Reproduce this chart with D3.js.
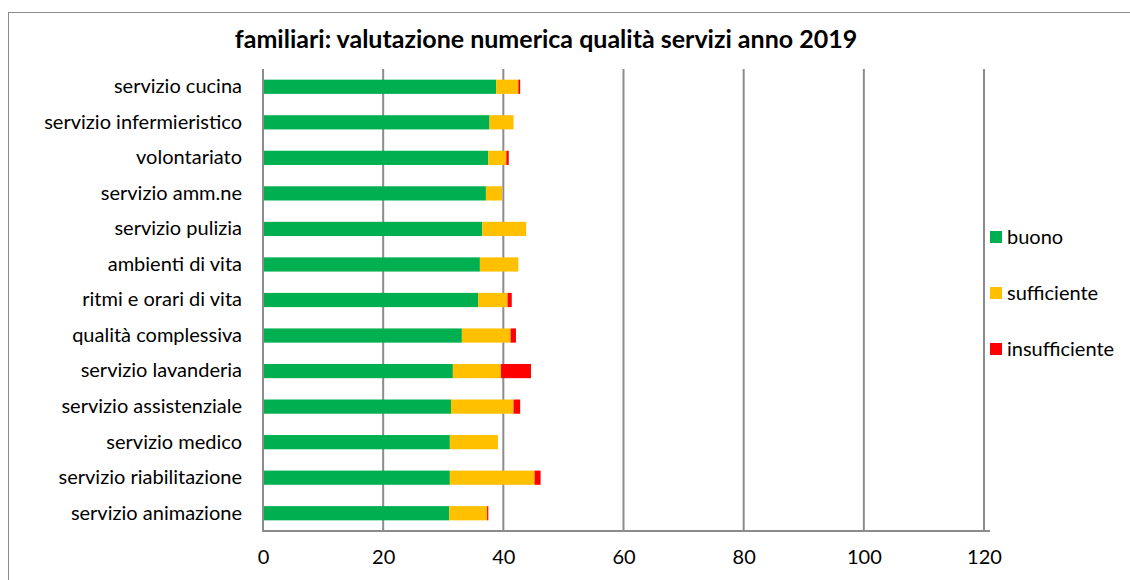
<!DOCTYPE html>
<html>
<head>
<meta charset="utf-8">
<script src="https://cdn.jsdelivr.net/npm/d3@7"></script>
<style>
  body { margin: 0; background: #fff; }
  svg text { font-family: "Lato", "Open Sans", sans-serif; fill: #000; }
</style>
</head>
<body>
<div id="chart"></div>
<script>
// Data
const categories = [
  "servizio cucina", "servizio infermieristico", "volontariato", "servizio amm.ne",
  "servizio pulizia", "ambienti di vita", "ritmi e orari di vita", "qualità complessiva",
  "servizio lavanderia", "servizio assistenziale", "servizio medico",
  "servizio riabilitazione", "servizio animazione"
];
const buono =         [38.8, 37.7, 37.5, 37.1, 36.5, 36.1, 35.8, 33.1, 31.6, 31.3, 31.1, 31.1, 31.0];
const sufficiente =   [3.7, 4.0, 3.0, 2.7, 7.3, 6.4, 4.9, 8.1, 8.0, 10.4, 8.0, 14.1, 6.3];
const insufficiente = [0.3, 0, 0.4, 0, 0, 0, 0.7, 0.9, 5.0, 1.1, 0, 1.0, 0.2];
const seriesNames = ["buono", "sufficiente", "insufficiente"];
const xTicks = [0, 20, 40, 60, 80, 100, 120];

const width = 1130, height = 580;
const margin = { top: 69, right: 146, bottom: 49, left: 263 };
const colors = { buono: "#00B050", sufficiente: "#FFC000", insufficiente: "#FF0000" };

const svg = d3.select("#chart").append("svg")
  .attr("width", width)
  .attr("height", height);

// outer chart frame
svg.append("rect")
  .attr("x", 8.5).attr("y", 12.5)
  .attr("width", width + 10).attr("height", height + 10)
  .attr("fill", "none").attr("stroke", "#8c8c8c").attr("stroke-width", 1);

const rows = categories.map((c, i) => ({
  name: c, buono: buono[i], sufficiente: sufficiente[i], insufficiente: insufficiente[i]
}));
const stacked = d3.stack().keys(seriesNames)(rows);

const x = d3.scaleLinear().domain([0, 120]).range([margin.left, 984]);
const y = d3.scaleBand().domain(categories)
  .range([margin.top, height - margin.bottom])
  .paddingInner(0.6).paddingOuter(0.3);

// vertical gridlines
svg.append("g")
  .selectAll("line")
  .data(xTicks.slice(1))
  .join("line")
  .attr("x1", d => x(d)).attr("x2", d => x(d))
  .attr("y1", margin.top).attr("y2", height - margin.bottom)
  .attr("stroke", "#8c8c8c").attr("stroke-width", 2);

// bars
svg.append("g")
  .selectAll("g")
  .data(stacked)
  .join("g")
  .attr("fill", d => colors[d.key])
  .selectAll("rect")
  .data(d => d)
  .join("rect")
  .attr("x", d => x(d[0]))
  .attr("y", d => y(d.data.name))
  .attr("width", d => x(d[1]) - x(d[0]))
  .attr("height", y.bandwidth());

// x axis
const xAxis = svg.append("g")
  .attr("transform", `translate(0,${height - margin.bottom})`)
  .call(d3.axisBottom(x).tickValues(xTicks).tickSize(0).tickPadding(19));
xAxis.select(".domain").remove();
xAxis.append("line")
  .attr("x1", margin.left - 1).attr("x2", 990)
  .attr("stroke", "#8c8c8c").attr("stroke-width", 2);
xAxis.selectAll(".tick text").style("font-size", "20px");

// y axis
const yAxis = svg.append("g")
  .attr("transform", `translate(${margin.left},0)`)
  .call(d3.axisLeft(y).tickSize(0).tickPadding(21));
yAxis.select(".domain").remove();
yAxis.append("line")
  .attr("y1", margin.top).attr("y2", height - margin.bottom + 1)
  .attr("stroke", "#8c8c8c").attr("stroke-width", 2);
yAxis.selectAll(".tick text").style("font-size", "20px");

// title
svg.append("text")
  .attr("x", 546).attr("y", 48)
  .attr("text-anchor", "middle")
  .style("font-size", "25px")
  .style("font-weight", "bold")
  .text("familiari: valutazione numerica qualità servizi anno 2019");

// legend
const legend = svg.append("g")
  .selectAll("g")
  .data(seriesNames)
  .join("g")
  .attr("transform", (d, i) => `translate(990,${237 + i * 56})`);
legend.append("rect")
  .attr("y", -6).attr("width", 12).attr("height", 12)
  .attr("fill", d => colors[d]);
legend.append("text")
  .attr("x", 17).attr("dy", "0.35em")
  .style("font-size", "20px")
  .text(d => d);
</script>
</body>
</html>
